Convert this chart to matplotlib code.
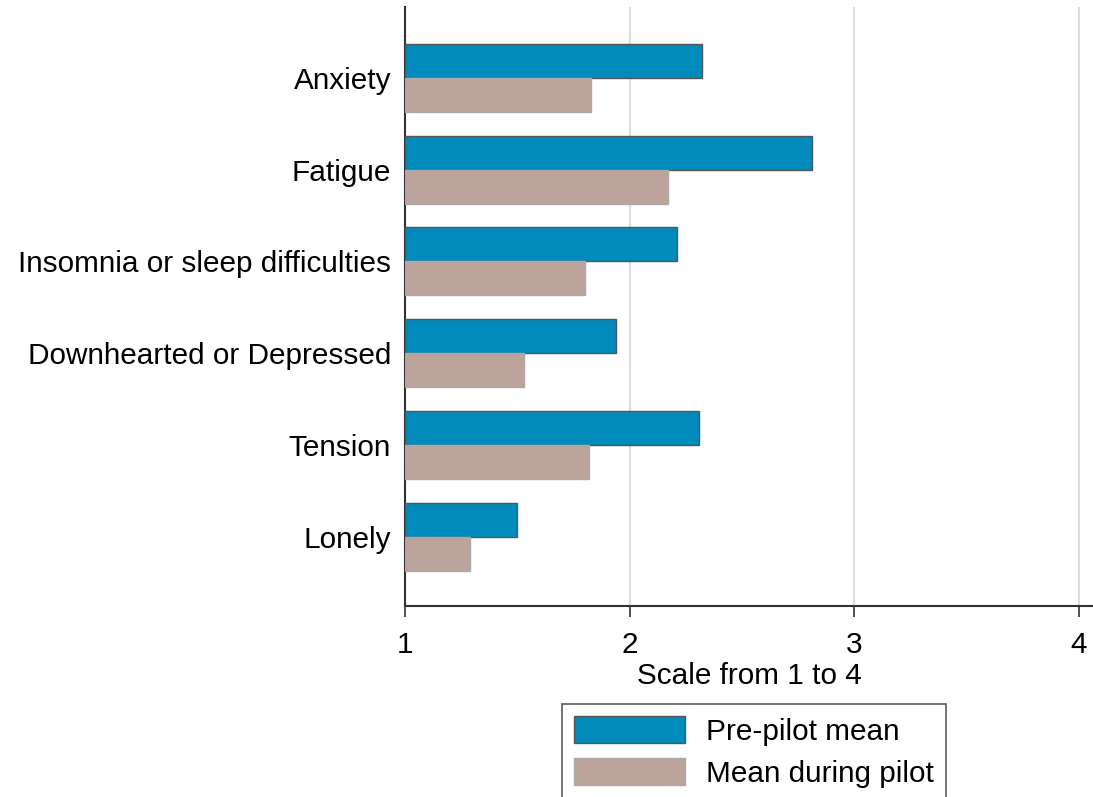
import matplotlib
matplotlib.use("Agg")
import matplotlib.pyplot as plt
import numpy as np

plt.rcParams['font.family'] = ['Liberation Sans', 'DejaVu Sans']

# data
symptoms = ["Anxiety", "Fatigue", "Insomnia or sleep difficulties",
            "Downhearted or Depressed", "Tension", "Lonely"]
pre_pilot = [2.32, 2.81, 2.21, 1.94, 2.31, 1.50]
during_pilot = [1.83, 2.17, 1.80, 1.53, 1.82, 1.29]

blue = "#008bbc"
rose = "#bca39b"
fs = 21.4

fig = plt.figure(figsize=(10.93, 7.97), dpi=100)
ax = fig.add_axes([0.3705, 0.2397, 0.6295, 0.7516])

y = np.arange(len(symptoms))[::-1] + 1
h = 0.37
ax.barh(y + h / 2, np.array(pre_pilot) - 1, left=1, height=h, color=blue,
        edgecolor="#555555", linewidth=1, label="Pre-pilot mean", zorder=3)
ax.barh(y - h / 2, np.array(during_pilot) - 1, left=1, height=h, color=rose,
        edgecolor="#aaaaaa", linewidth=1, label="Mean during pilot", zorder=3)

ax.set_xlim(1, 4.062)
ax.set_ylim(0.25, 6.77)
ax.set_xticks([1, 2, 3, 4])
ax.set_yticks(y)
ax.set_yticklabels(symptoms)
ax.tick_params(axis="y", length=0, pad=10, labelsize=fs)
ax.tick_params(axis="x", length=8, width=1.2, color="#333333", labelsize=fs, pad=10)
ax.xaxis.grid(True, color="#dddddd", linewidth=1.5, zorder=0)
ax.set_axisbelow(True)
for s in ["top", "right"]:
    ax.spines[s].set_visible(False)
for s in ["left", "bottom"]:
    ax.spines[s].set_color("#333333")
    ax.spines[s].set_linewidth(1.5)
ax.set_xlabel("Scale from 1 to 4", fontsize=fs, labelpad=2)

leg = fig.legend(loc="upper left", bbox_to_anchor=(562 / 1093, 1 - 704 / 797),
                 fontsize=fs, frameon=True, fancybox=False, edgecolor="#333333",
                 handlelength=3.75, handleheight=1.05, borderpad=0.4,
                 labelspacing=0.4, handletextpad=0.7, borderaxespad=0)
leg.get_frame().set_linewidth(1.2)

fig.savefig("out.png", dpi=100)
